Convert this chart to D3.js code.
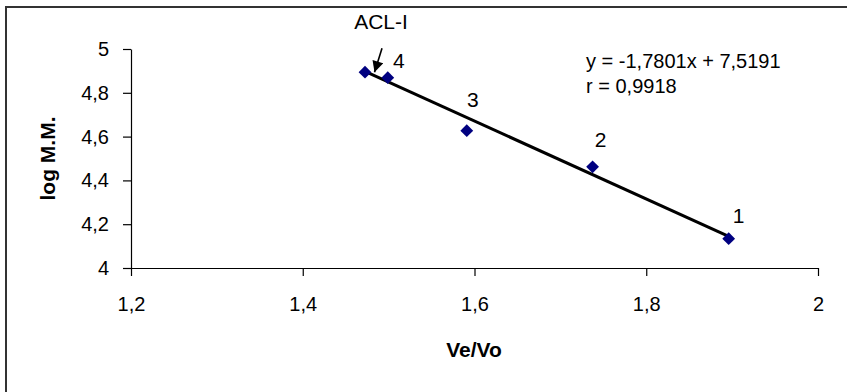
<!DOCTYPE html>
<html>
<head>
<meta charset="utf-8">
<script src="https://cdn.jsdelivr.net/npm/d3@7"></script>
<style>
  body { margin: 0; background: #fff; }
  svg { display: block; font-family: "Liberation Sans", Arial, sans-serif; }
</style>
</head>
<body>
<div id="chart"></div>
<script>
// data
const veVo = [1.4725, 1.499, 1.591, 1.7375, 1.896];
const logMM = [4.894, 4.869, 4.627, 4.462, 4.134];
const pointLabels = ['ACL-I', '4', '3', '2', '1'];
const xTicks = [1.2, 1.4, 1.6, 1.8, 2];
const yTicks = [4, 4.2, 4.4, 4.6, 4.8, 5];
const slope = -1.7801;
const intercept = 7.5191;
const equationLines = ['y = -1,7801x + 7,5191', 'r = 0,9918'];

const width = 847, height = 392;
const plot = { left: 131, right: 818, top: 49, bottom: 268 };
const comma = v => String(v).replace('.', ',');

const svg = d3.select('#chart').append('svg')
    .attr('width', width)
    .attr('height', height);

// outer frame (runs off the right and bottom edge)
svg.append('rect')
    .attr('x', 6).attr('y', 7)
    .attr('width', width + 10).attr('height', height + 10)
    .attr('fill', 'none')
    .attr('stroke', '#333')
    .attr('stroke-width', 2);

const x = d3.scaleLinear().domain([1.2, 2]).range([plot.left, plot.right]);
const y = d3.scaleLinear().domain([4, 5]).range([plot.bottom, plot.top]);

const xAxis = svg.append('g')
    .attr('transform', 'translate(0,' + plot.bottom + ')')
    .call(d3.axisBottom(x).tickValues(xTicks).tickFormat(comma).tickSize(8).tickSizeOuter(0).tickPadding(21));
const yAxis = svg.append('g')
    .attr('transform', 'translate(' + plot.left + ',0)')
    .call(d3.axisLeft(y).tickValues(yTicks).tickFormat(comma).tickSize(8).tickSizeOuter(0).tickPadding(14));

[xAxis, yAxis].forEach(g => {
    g.select('.domain').attr('stroke', '#000').attr('stroke-width', 1.2);
    g.selectAll('.tick line').attr('stroke', '#000').attr('stroke-width', 1.2);
    g.selectAll('.tick text')
        .attr('fill', '#000')
        .style('font-family', '"Liberation Sans", Arial, sans-serif')
        .style('font-size', '20px');
});

// axis titles
svg.append('text')
    .attr('x', 474)
    .attr('y', 357)
    .attr('text-anchor', 'middle')
    .style('font-weight', 'bold')
    .style('font-size', '21px')
    .text('Ve/Vo');

svg.append('text')
    .attr('transform', 'translate(55,' + ((plot.top + plot.bottom) / 2) + ') rotate(-90)')
    .attr('text-anchor', 'middle')
    .style('font-weight', 'bold')
    .style('font-size', '21px')
    .text('log M.M.');

// trend line
const xMin = d3.min(veVo), xMax = d3.max(veVo);
svg.append('line')
    .attr('x1', x(xMin)).attr('y1', y(slope * xMin + intercept))
    .attr('x2', x(xMax)).attr('y2', y(slope * xMax + intercept))
    .attr('stroke', '#000')
    .attr('stroke-width', 3);

// points (diamonds)
const points = veVo.map((v, i) => ({ x: v, y: logMM[i], label: pointLabels[i] }));
svg.selectAll('path.pt')
    .data(points)
    .join('path')
    .attr('class', 'pt')
    .attr('d', d3.symbol().type(d3.symbolSquare).size(82))
    .attr('transform', d => 'translate(' + x(d.x) + ',' + y(d.y) + ') rotate(45)')
    .attr('fill', '#000080');

// point labels (offsets in px from the point)
const labelOffsets = [[16, -43], [11, -10], [6, -24], [8, -20], [10, -16]];
svg.selectAll('text.pl')
    .data(points)
    .join('text')
    .attr('class', 'pl')
    .attr('x', (d, i) => x(d.x) + labelOffsets[i][0])
    .attr('y', (d, i) => y(d.y) + labelOffsets[i][1])
    .attr('text-anchor', 'middle')
    .style('font-size', '21px')
    .text(d => d.label);

// arrow pointing at ACL-I
svg.append('defs').append('marker')
    .attr('id', 'head')
    .attr('viewBox', '0 0 10 10')
    .attr('refX', 10).attr('refY', 5)
    .attr('markerUnits', 'userSpaceOnUse')
    .attr('markerWidth', 12).attr('markerHeight', 11)
    .attr('orient', 'auto')
    .append('path')
    .attr('d', 'M0,0L10,5L0,10Z')
    .attr('fill', '#000');
svg.append('line')
    .attr('x1', x(xMin) + 17).attr('y1', y(logMM[0]) - 24)
    .attr('x2', x(xMin) + 9.5).attr('y2', y(logMM[0]))
    .attr('stroke', '#000')
    .attr('stroke-width', 1.6)
    .attr('marker-end', 'url(#head)');

// equation
svg.append('text')
    .attr('x', 586)
    .attr('y', 68)
    .style('font-size', '20px')
    .selectAll('tspan')
    .data(equationLines)
    .join('tspan')
    .attr('x', 586)
    .attr('dy', (d, i) => i === 0 ? 0 : 25)
    .text(d => d);
</script>
</body>
</html>
